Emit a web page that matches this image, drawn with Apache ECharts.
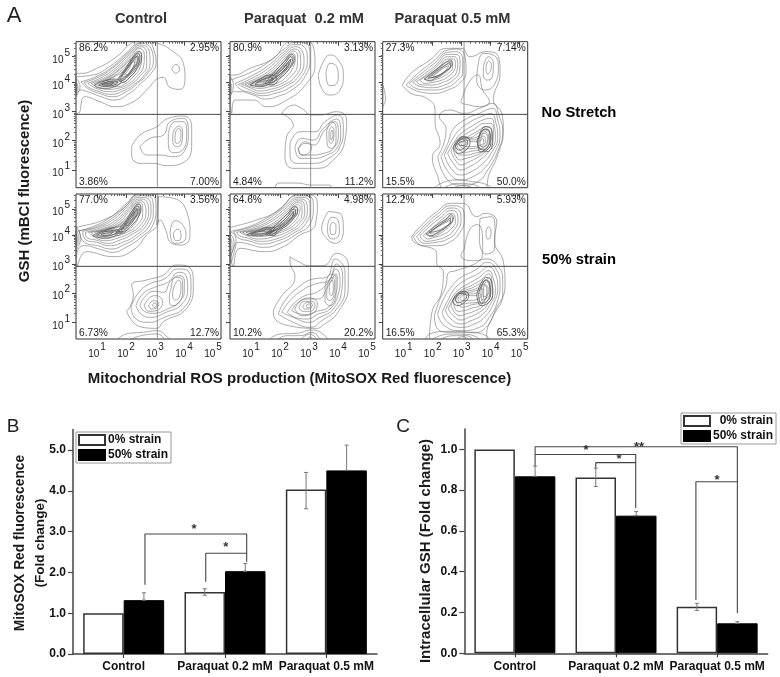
<!DOCTYPE html>
<html><head><meta charset="utf-8">
<style>html,body{margin:0;padding:0;background:#fff}#c{width:780px;height:677px}</style>
<script src="https://cdn.jsdelivr.net/npm/echarts@6/dist/echarts.min.js"></script>
</head><body><div id="c"></div>
<script>
// ---- Panel A: contour data, flow-cytometry channels (x across, y down from top of plot); each list is one contour
const contoursNoStretchControl=[
[0,95,12,95,62,80,122,45,172,2,200,-3,245,5,285,25,322,65,327,110,312,143,282,137,262,107,247,110,212,145,172,180,117,195,72,180,27,165,6,215,-5,215],
[0,105,50,100,100,75,150,35,185,5,215,0,235,30,240,65,225,95,195,125,160,155,115,175,75,165,35,150,15,145,0,160],
[15,120,60,105,110,75,160,30,195,5,225,20,232,60,215,95,185,125,150,150,110,165,70,155,35,140],
[25,122,70,105,115,75,160,35,195,10,220,30,222,65,205,100,175,128,140,148,105,158,65,148,35,135],
[35,125,75,108,120,78,160,40,195,15,212,35,212,70,195,100,165,128,130,145,100,150,65,142],
[45,125,85,108,125,80,165,42,190,20,205,40,203,72,185,102,155,128,125,140,95,143,65,135],
[55,125,90,110,130,82,165,48,188,28,197,45,193,75,175,102,145,128,120,135,90,135,65,130],
[65,122,95,110,130,85,165,52,186,34,190,50,183,78,165,104,135,125,110,130,85,128],
[78,120,105,108,135,88,165,58,183,42,183,58,172,82,150,108,125,122,100,125],
[90,117,115,105,140,90,165,65,178,52,175,68,160,92,135,112,110,120],
[135,105,160,72,180,45,185,50,170,80,145,105],
[145,100,160,80,172,60,176,62,165,85,150,100],
[75,125,100,115,125,118,105,128,80,130],
[85,125,100,120,115,122,100,126],
[0,110,8,120,12,135,8,150,0,165],[0,120,5,130,6,140,3,150,0,155],[0,125,3,135,2,145,0,150],
[287,82,299,68,311,82,299,95],
[167,315,192,280,242,255,277,230,322,223,347,255,347,315,317,365,272,372,232,365,192,365,167,340],
[192,315,222,290,262,280,282,240,322,230,337,275,327,325,292,345,252,340,212,340],
[277,275,297,240,322,240,332,275,320,325,292,333,277,305],
[292,270,307,253,320,270,317,305,302,315,290,295],
[299,270,307,260,315,275,312,300,302,305,297,290]];
const contoursNoStretchLow=[
[0,100,10,100,60,80,130,50,180,0,225,-3,250,15,255,65,230,125,170,175,110,195,70,175,15,175,5,215],
[0,115,55,95,110,65,165,20,195,2,228,5,240,50,225,105,185,145,140,165,105,172,70,160,30,150,10,150,0,175],
[15,125,60,105,110,75,165,28,195,8,222,15,232,55,215,105,175,140,135,155,100,162,60,152,30,142],
[25,128,65,110,115,80,165,35,195,15,215,25,222,60,205,105,170,132,130,148,95,155,60,145],
[35,128,75,112,120,85,165,42,195,22,210,35,212,65,195,105,160,130,125,142,90,148,60,138],
[45,128,85,112,125,88,165,50,192,28,203,42,202,70,185,102,150,128,120,135,90,140,62,135],
[55,128,90,112,128,92,165,58,188,35,196,50,190,75,172,102,140,125,112,130,85,132],
[65,126,98,112,130,95,165,65,185,42,190,55,178,80,158,102,130,120,105,125,85,127],
[78,122,105,110,135,95,165,70,182,52,180,65,165,85,145,102,120,117,95,122],
[88,120,115,108,140,97,165,75,177,62,170,78,150,97,125,113,105,118],
[100,118,120,105,145,92,170,70,165,82,145,100,120,113],
[0,105,8,118,10,135,6,150,0,165],[0,120,4,130,5,140,2,150,0,155],
[265,100,280,60,300,40,325,55,340,100,330,145,300,160,275,140],
[288,95,300,65,318,72,325,105,315,130,298,132],
[155,215,190,190,215,200,245,220,270,220,320,210,350,235,345,295,310,355,260,380,190,380,165,345,170,285,190,250],
[180,305,210,270,255,270,285,240,325,220,340,265,330,315,295,350,250,365,200,365,180,340],
[195,315,215,290,250,295,280,260,320,232,332,275,320,320,290,340,250,350,210,350],
[205,320,225,300,250,310,285,265,315,240,325,280,310,320,280,335,245,340,215,340],
[205,320,225,305,245,315,235,335,215,340],
[290,270,305,240,318,255,318,295,305,320,292,310],
[297,270,305,255,312,270,310,295,302,305,297,290],
[302,275,306,265,309,280,304,295],
[135,445,145,424,200,424,245,430,300,430,305,445]];
const contoursNoStretchHigh=[
[59,130,85,95,142,55,192,20,237,20,262,45,310,30,347,45,352,95,332,175,357,215,362,265,345,340,320,395,300,445,192,445,162,395,149,345,172,305,157,240,157,205,132,170,85,155],
[240,165,260,120,285,100,300,145,320,180,290,195,260,190,235,180],
[287,65,302,35,332,40,347,75,337,125,307,145,282,115],
[302,75,317,45,332,65,327,110,312,115,302,95],
[310,75,317,58,326,70,322,90,314,97],
[0,130,6,150,8,175,3,190,0,195],
[70,130,100,100,150,60,195,25,225,22,248,50,250,90,230,125,195,145,155,155,110,150],
[80,125,110,100,155,65,195,32,222,30,240,55,240,90,220,120,190,138,150,145,110,143],
[90,122,120,100,160,70,195,38,220,38,232,60,230,90,212,115,185,130,150,138,115,135],
[100,120,130,100,165,72,195,45,215,45,225,65,222,90,205,110,180,122,150,130,120,130],
[112,115,140,97,170,75,195,52,212,52,218,70,212,90,195,105,175,116,150,122,125,125],
[125,112,150,95,175,75,195,60,208,60,210,75,200,92,180,105,160,113,140,118],
[140,108,165,90,190,70,205,66,200,82,180,98,160,108],
[150,105,170,88,190,75,198,72,190,85,170,100],
[165,345,185,300,190,260,170,225,200,205,245,215,290,200,330,185,350,225,360,270,345,330,315,385,285,420,240,430,195,415],
[175,345,195,305,210,265,245,235,290,215,330,200,345,235,352,280,335,335,305,380,270,405,235,415,200,395],
[185,340,205,300,225,270,255,245,295,225,325,215,340,245,345,285,325,335,295,370,265,390,235,400,205,380],
[195,335,215,300,235,275,265,255,300,235,325,230,335,255,338,290,318,330,285,360,260,375,235,385,212,365],
[205,330,222,300,245,280,275,262,305,245,325,245,332,265,330,295,310,328,280,350,255,362,235,370,218,355],
[212,325,230,295,255,285,285,268,310,255,325,258,327,280,320,305,300,330,275,343,250,350,232,355],
[218,318,235,290,262,288,285,275,310,265,320,275,320,300,305,325,275,335,250,340,230,340],
[222,310,240,285,265,290,285,285,305,275,315,285,312,305,295,322,270,328,245,332],
[228,305,245,288,268,295,288,290,303,283,308,298,295,315,270,320,245,322],
[235,305,250,295,268,300,290,298,300,290,303,302,285,312,260,315,245,315],
[290,290,305,262,322,275,320,305,302,322,288,312],
[295,290,305,270,317,280,315,305,300,315,292,305],
[150,445,175,425,225,415,270,420,315,430,330,445],
[175,445,225,425,270,428,300,445],[200,445,235,432,260,434,275,445]];
const contoursStrainControl=[
[0,100,12,98,82,78,142,43,192,0,237,0,247,23,247,83,212,123,172,168,112,188,32,173,4,218],
[0,112,50,98,100,72,150,30,185,2,230,5,240,45,232,90,195,130,150,160,110,175,70,165,25,155,8,165,0,195],
[10,110,55,100,105,75,155,32,190,5,225,10,232,50,222,92,185,128,145,152,105,165,65,155,25,145],
[20,112,65,100,110,78,155,38,190,10,218,15,225,50,212,92,178,125,140,145,100,155,62,145,30,138],
[28,115,72,102,115,82,158,42,190,15,212,22,218,52,202,95,170,120,132,138,95,148,60,138,32,130],
[38,115,80,104,120,85,160,46,190,20,205,28,210,55,192,95,160,118,125,132,90,140,60,132],
[45,115,85,105,125,88,162,50,188,25,200,35,200,58,182,95,152,115,120,126,88,134,58,125],
[55,115,92,105,130,90,165,55,186,30,193,42,190,60,172,95,145,112,115,120,85,127],
[62,114,98,104,132,92,165,60,184,36,187,48,180,65,160,95,135,110,110,115,85,120],
[72,114,102,104,135,94,165,65,182,42,180,58,168,75,148,96,125,110,100,112],
[85,112,110,102,138,96,165,72,178,52,172,70,155,88,130,105,108,110],
[145,90,165,65,176,55,165,80,150,95],[118,122,130,112,135,115,125,125],
[0,98,10,115,14,132,10,150,0,170],[0,110,6,120,9,135,5,150,0,160],[0,120,4,128,5,138,2,148,0,152],
[247,8,292,13,332,53,342,123,317,153,287,148,267,103,252,78,242,93],
[282,115,297,80,318,90,330,125,318,145,295,148],
[292,118,305,105,315,120,312,138,300,140],
[152,353,172,303,167,273,212,258,262,243,302,213,337,218,352,273,332,343,262,383,242,403,192,398],
[165,340,185,300,220,270,265,255,305,225,335,230,345,275,325,340,265,370,220,385,180,375],
[180,335,200,300,235,280,275,265,310,235,330,245,335,280,318,330,270,355,225,370,195,360],
[192,335,205,310,235,292,262,295,285,260,312,245,325,260,325,290,308,325,275,345,230,358,205,352],
[205,335,220,312,240,305,260,325,240,350,218,352],
[218,335,232,320,248,328,240,343,225,345],[229,335,235,327,243,332,235,340],
[285,285,298,250,318,255,320,290,305,330,288,335,280,310],
[295,275,308,258,315,275,310,310,298,318,290,300],
[118,445,150,420,200,415,242,410,275,430,290,445],[150,445,195,425,245,420,270,445]];
const contoursStrainLow=[
[0,100,10,98,80,78,140,53,210,0,245,3,262,30,258,80,250,103,210,123,160,158,105,173,30,163,10,218],
[0,112,50,100,105,75,155,40,200,5,240,8,250,40,240,90,200,120,150,148,100,160,55,150,25,145,8,170,0,205],
[12,112,60,100,110,78,160,42,205,10,235,15,240,45,228,88,190,118,145,140,95,150,55,140,25,132],
[20,115,68,102,115,82,165,45,205,15,228,22,232,50,218,88,182,115,138,135,90,142,52,132,28,125],
[30,115,75,104,120,85,168,50,205,20,222,28,224,55,208,88,175,112,132,128,85,135,50,125],
[38,115,82,105,125,90,170,55,205,25,216,35,216,58,198,88,165,110,125,122,85,128,52,122],
[48,115,88,106,130,92,172,60,202,32,210,40,206,62,188,88,158,108,120,118,85,122],
[58,114,95,106,135,95,175,65,200,38,203,48,196,65,178,88,150,106,115,115,85,118],
[70,114,102,106,138,98,178,70,198,45,195,58,185,72,168,90,145,105,110,112],
[85,112,110,108,142,98,175,78,192,58,185,72,165,92,135,108],
[118,122,125,110,135,110,140,112,130,125],
[0,115,12,120,18,145,12,175,4,205,0,210],[0,120,8,130,12,150,8,170,0,190],[0,130,5,140,6,155,3,170,0,175],
[295,53,335,63,340,113,315,148,290,133,275,103],
[292,100,305,70,325,80,328,115,310,135,295,125],
[300,100,307,85,318,95,316,118,305,122],
[180,188,200,200,240,215,280,215,320,178,355,213,355,273,325,353,280,393,260,403,190,398,130,358,150,313,195,248,180,203],
[145,360,165,320,205,280,250,255,290,250,315,195,345,235,345,285,320,345,275,380,240,400,190,385],
[155,355,180,320,215,290,255,270,295,260,320,210,338,245,335,290,310,345,270,370,235,385,190,370],
[172,355,195,325,225,305,260,295,295,265,318,225,330,260,325,300,300,345,265,360,230,375,195,370],
[185,350,205,325,235,315,265,315,295,275,318,240,322,265,315,305,295,340,260,352,225,362],
[195,345,212,320,240,312,262,330,245,360,215,365],
[207,340,222,322,245,322,255,335,238,352,218,352],
[218,338,232,325,247,332,238,345,224,345],[228,335,237,330,242,336,233,341],
[285,280,302,240,318,250,318,300,300,335,285,320],
[292,275,305,250,314,262,312,300,298,320,290,305],
[298,270,306,258,310,280,304,305,298,295],
[110,445,150,420,200,418,245,408,285,425,295,445],[135,445,170,425,210,425,245,415,275,445],
[205,445,240,420,265,445],[225,445,240,428,252,445]];
const contoursStrainHigh=[
[87,128,110,100,160,55,207,28,242,28,282,68,307,58,342,83,335,140,362,203,367,273,332,363,312,423,320,445,140,445,147,358,177,293,182,233,162,208,162,178,92,143],
[245,165,262,105,285,92,300,150,298,190,270,200,235,185],
[292,73,327,68,337,115,335,165,310,180,290,130],
[310,113,317,98,325,113,322,132,314,135],
[92,128,125,95,165,60,205,35,235,40,245,75,232,115,200,145,160,155,120,155],
[102,128,130,98,170,65,205,42,228,48,235,78,222,112,195,135,160,145,125,148],
[112,125,140,98,175,70,205,50,222,55,226,80,212,110,190,128,160,138,130,142],
[122,125,150,100,180,75,205,58,216,65,218,82,205,105,180,122,155,130,135,135],
[132,122,160,100,185,82,205,68,210,75,205,90,185,110,165,122,145,128],
[140,118,165,100,190,85,203,78,198,92,178,110,155,120],
[155,365,170,320,190,275,195,240,220,230,265,215,310,195,345,215,360,260,360,300,335,360,305,405,275,415,205,415,165,405],
[165,360,180,320,205,280,235,250,275,230,315,205,340,225,352,270,345,320,320,370,290,400,235,410,185,395],
[178,355,195,320,215,285,245,260,285,240,318,218,338,240,345,280,332,330,305,370,275,390,235,400,195,385],
[188,350,205,315,225,290,255,270,290,250,318,230,332,255,338,290,320,335,295,365,265,380,235,390,205,375],
[197,345,212,315,235,290,265,275,295,258,318,240,328,265,330,295,312,335,285,358,258,370,235,378,212,365],
[205,335,220,305,245,290,272,280,298,265,320,252,325,275,322,300,302,335,278,350,250,360,230,365],
[212,325,228,300,252,292,278,285,298,272,318,262,320,285,312,308,292,335,268,342,245,350,225,352],
[218,320,235,298,260,295,280,290,295,280,305,272,312,295,298,325,268,332,240,340],
[225,315,240,300,262,300,280,298,295,285,303,285,303,305,285,325,260,327,240,330],
[232,312,245,302,262,305,280,305,290,298,295,305,280,317,258,320,240,320],
[295,290,308,258,318,268,322,295,310,315,298,318],
[300,290,308,272,316,285,312,305,302,308],
[125,445,145,418,200,412,260,415,310,425,320,445],[135,445,200,420,260,422,300,445],
[160,445,210,425,250,425,280,445],[210,445,240,428,265,445]];
// densest inner contours around each peak, drawn slightly heavier
const coreNoStretchControl=[[125,112,150,78,172,45,190,30,197,45,185,78,160,108,140,122],[130,110,155,75,175,45,188,36,192,48,180,78,155,105,138,116],[133,110,158,76,178,48,186,42,187,52,175,78,152,103,138,112],
[55,130,85,118,115,112,135,120,115,135,85,140,65,138],[68,130,90,122,115,118,125,122,108,132,85,134],[78,128,95,124,112,122,105,129,88,131]];
const coreNoStretchLow=[[105,125,130,95,160,62,185,38,193,50,175,85,150,110,125,130],[115,122,135,98,165,65,183,45,187,55,168,85,145,108,125,124],[122,118,140,100,168,70,182,52,180,62,162,85,140,106],
[60,130,90,112,120,100,140,108,120,125,90,135],[75,128,95,115,120,108,130,112,115,122,90,130]];
const coreNoStretchHigh=[[125,112,155,88,185,65,205,55,208,68,190,88,160,108,140,116],[135,110,162,88,188,70,202,62,203,72,185,90,160,104],
[212,318,228,290,245,285,262,300,250,325,225,335],[218,312,232,295,245,292,255,302,245,318,228,325],[225,308,235,300,245,298,250,305,240,312],
[285,300,298,262,312,255,328,270,330,300,312,330,292,330],[283,298,298,268,312,262,322,275,324,302,308,325,292,322]];
const coreStrainControl=[[120,115,150,80,172,45,188,30,195,42,185,72,160,100,135,118],[128,112,155,80,175,48,186,36,190,48,178,72,155,98,135,113],[135,108,160,78,178,52,184,44,184,55,172,75,150,98],
[50,125,80,112,110,105,130,112,110,128,80,132],[62,124,85,114,112,110,122,114,105,124,80,127],[75,122,95,116,112,114,100,122,85,124]];
const coreStrainLow=[[105,122,135,95,170,62,195,38,203,48,185,80,155,105,125,125],[112,120,140,98,172,68,192,45,197,52,180,80,150,103,125,120],[120,118,145,100,175,72,190,52,190,60,172,82,145,102],
[50,122,85,110,115,100,135,102,115,118,85,125],[62,120,90,112,118,105,125,108,105,117,85,120]];
const coreStrainHigh=[[130,120,160,95,190,75,205,62,212,72,195,95,165,115,145,125],[140,115,168,95,192,80,203,72,204,82,185,100,160,112],
[210,320,228,295,245,292,258,305,245,325,222,335],[218,315,232,298,245,298,252,308,242,320,226,326],
[282,300,298,262,312,250,328,268,330,300,312,330,295,335],[288,298,300,268,312,258,322,275,324,300,308,325,295,328]];
const panelContours=[contoursNoStretchControl,contoursNoStretchLow,contoursNoStretchHigh,contoursStrainControl,contoursStrainLow,contoursStrainHigh];
const panelCores=[coreNoStretchControl,coreNoStretchLow,coreNoStretchHigh,coreStrainControl,coreStrainLow,coreStrainHigh];
const percentLabels=[["86.2%","2.95%","3.86%","7.00%"],["80.9%","3.13%","4.84%","11.2%"],["27.3%","7.14%","15.5%","50.0%"],
["77.0%","3.56%","6.73%","12.7%"],["64.6%","4.98%","10.2%","20.2%"],["12.2%","5.93%","16.5%","65.3%"]];
const columnTitles=["Control","Paraquat  0.2 mM","Paraquat 0.5 mM"];
const decadeX=[63,150,237,324,411], decadeY=[385,297,210,123,45], decadeExp=[1,2,3,4,5];
const minorFractions=[.3,.48,.6,.7,.78,.85,.9,.95];
const gateX=[244,242,244,244,242,244], gateY=[218,218,218,217,217,217];

// ---- Panels B and C
const categories=["Control","Paraquat 0.2 mM","Paraquat 0.5 mM"];
const rosNoStrain=[1.0,1.52,4.03], rosStrain=[1.32,2.03,4.5];
const rosErrors=[[.7,1.32,1.5],[1.3,1.44,1.6],[1.7,2.03,2.22],[2.3,3.56,4.45],[2.7,4.5,5.12]];
const gshNoStrain=[1.0,.862,.228], gshStrain=[.868,.675,.147];
const gshErrors=[[.7,.868,.918],[1.3,.818,.908],[1.7,.675,.695],[2.3,.21,.245],[2.7,.147,.155]];
const rosBrackets=[[[.71,1.7],[.71,2.94],[1.714,2.94],[1.714,2.26]],[[1.31,1.77],[1.31,2.47],[1.714,2.47]]];
const gshBrackets=[[[.7,.918],[.7,1.013],[2.7,1.013],[2.7,.197]],[[.7,.975],[1.695,.975],[1.695,.713]],[[1.3,.91],[1.3,.935],[1.695,.935]],[[2.29,.262],[2.29,.841],[2.7,.841]]];
const rosStars=[[1.194,3.05,"*"],[1.507,2.6,"*"]];
const gshStars=[[1.204,.995,"*"],[1.53,.95,"*"],[2.5,.85,"*"],[1.728,1.01,"**"]];

// ---- build
const FF='"Liberation Sans",Arial,sans-serif';
const grids=[],xAxes=[],yAxes=[],series=[],graphic=[];
const panelLeft=[76,230,382.7], panelTop=[41.7,194], pw=145, ph=146;
function toLine(list){const out=[];list.forEach(c=>{for(let i=0;i<c.length;i+=2)out.push([c[i],c[i+1]]);out.push([c[0],c[1]]);out.push(['-','-']);});return out;}
function minorTicks(maj,step){const o=[];maj.forEach(m=>minorFractions.forEach(f=>o.push(m+step*f)));return o;}
const supRich={b:{fontFamily:FF,fontSize:10,color:'#222',padding:[7,0,0,0]},s:{fontFamily:FF,fontSize:10,color:'#222',padding:[0,0,7,1]}};
const fmtDecade=arr=>v=>{const i=arr.indexOf(v);return '{b|10}{s|'+decadeExp[i]+'}';};
panelContours.forEach((cont,i)=>{
  const row=i<3?0:1,col=i%3;
  const left=panelLeft[col],top=panelTop[row],h=row?145:ph;
  grids.push({left,top,width:pw,height:h,show:true,borderColor:'#333',borderWidth:1,backgroundColor:'#fff'});
  const xi=xAxes.length,yi=yAxes.length;
  const line={lineStyle:{color:'#444',width:1}};
  xAxes.push({gridIndex:i,type:'value',min:0,max:435,position:'bottom',splitLine:{show:false},axisLine:{show:false},
    axisTick:Object.assign({show:true,length:4,customValues:decadeX},line),
    axisLabel:{show:row===1,customValues:decadeX,margin:3,formatter:fmtDecade(decadeX),rich:supRich}});
  xAxes.push({gridIndex:i,type:'value',min:0,max:435,position:'bottom',splitLine:{show:false},axisLine:{show:false},
    axisTick:{show:true,length:2,customValues:minorTicks(decadeX,87).filter(v=>v<435),lineStyle:{color:'#666',width:1}},axisLabel:{show:false}});
  yAxes.push({gridIndex:i,type:'value',min:0,max:row?435:438,inverse:true,position:'left',splitLine:{show:false},axisLine:{show:false},
    axisTick:Object.assign({show:true,length:4,customValues:decadeY},line),
    axisLabel:{show:col===0,customValues:decadeY,margin:6,formatter:fmtDecade(decadeY),rich:supRich}});
  yAxes.push({gridIndex:i,type:'value',min:0,max:row?435:438,inverse:true,position:'left',splitLine:{show:false},axisLine:{show:false},
    axisTick:{show:true,length:2,customValues:decadeY.flatMap(m=>minorFractions.map(f=>m-87*f)).filter(v=>v>0),lineStyle:{color:'#666',width:1}},axisLabel:{show:false}});
  series.push({type:'line',name:'contours'+i,xAxisIndex:xi,yAxisIndex:yi,data:toLine(cont),smooth:.5,showSymbol:false,symbol:'none',silent:true,
    lineStyle:{color:'#666',width:.55},clip:true,connectNulls:false,z:2});
  series.push({type:'line',name:'core'+i,xAxisIndex:xi,yAxisIndex:yi,data:toLine(panelCores[i]),smooth:.5,showSymbol:false,symbol:'none',silent:true,
    lineStyle:{color:'#555',width:.8},clip:true,connectNulls:false,z:2});
  series.push({type:'line',name:'gateV'+i,xAxisIndex:xi,yAxisIndex:yi,symbol:'none',silent:true,clip:true,z:3,
    lineStyle:{color:'#777',width:.8},data:[[gateX[i],0],[gateX[i],440]]});
  series.push({type:'line',name:'gateH'+i,xAxisIndex:xi,yAxisIndex:yi,symbol:'none',silent:true,clip:true,z:3,
    lineStyle:{color:'#444',width:1},data:[[0,gateY[i]],[435,gateY[i]]]});
  const p=percentLabels[i],pct='10.2px '+FF;
  [[p[0],left+3,top+6.5,'left'],[p[1],left+pw-2,top+6.5,'right'],[p[2],left+3,top+h-6,'left'],[p[3],left+pw-2,top+h-6,'right']].forEach(t=>{
    graphic.push({type:'text',x:t[1],y:t[2],silent:true,z:10,style:{text:t[0],font:pct,fill:'#222',textAlign:t[3],textVerticalAlign:'middle'}});
  });
});
function barChart(gi,left,top,width,height,yMax,ticks,a,b,errs,brackets,stars){
  grids.push({left,top,width,height,show:false});
  const xi=xAxes.length,yi=yAxes.length;
  const boldLabel={fontFamily:FF,fontWeight:'bold',fontSize:12,color:'#111'};
  xAxes.push({gridIndex:gi,type:'category',data:categories,position:'bottom',axisLine:{show:true,onZero:false,lineStyle:{color:'#444',width:1.5}},
    axisTick:{show:true,alignWithLabel:true,interval:0,length:4,lineStyle:{color:'#444',width:1.2}},axisLabel:Object.assign({margin:7,interval:0,hideOverlap:false},boldLabel),splitLine:{show:false}});
  xAxes.push({gridIndex:gi,type:'value',min:0,max:3,show:false,splitLine:{show:false}});
  yAxes.push({gridIndex:gi,type:'value',min:0,max:yMax,position:'left',splitLine:{show:false},axisLine:{show:true,lineStyle:{color:'#444',width:1.5}},
    axisTick:{show:true,length:5,customValues:ticks,lineStyle:{color:'#444',width:1.2}},axisLabel:Object.assign({customValues:ticks,margin:7,formatter:v=>v.toFixed(1)},boldLabel)});
  series.push({type:'bar',name:'0% strain',xAxisIndex:xi,yAxisIndex:yi,data:a,barWidth:40.5,barGap:0,itemStyle:{color:'#fff',borderColor:'#333',borderWidth:1.5},silent:true,z:2});
  series.push({type:'bar',name:'50% strain',xAxisIndex:xi,yAxisIndex:yi,data:b,barWidth:40.5,barGap:0,itemStyle:{color:'#000',borderColor:'#000',borderWidth:1},silent:true,z:2});
  series.push({type:'custom',name:'errors'+gi,xAxisIndex:xi+1,yAxisIndex:yi,data:errs,silent:true,z:4,encode:{x:0,y:[1,2]},clip:false,
    renderItem:(p,api)=>{const l=api.coord([api.value(0),api.value(1)]),h=api.coord([api.value(0),api.value(2)]);
      const st={stroke:'#777',lineWidth:1};
      return {type:'group',children:[
        {type:'line',shape:{x1:l[0],y1:l[1],x2:h[0],y2:h[1]},style:st},
        {type:'line',shape:{x1:l[0]-2,y1:l[1],x2:l[0]+2,y2:l[1]},style:st},
        {type:'line',shape:{x1:h[0]-2,y1:h[1],x2:h[0]+2,y2:h[1]},style:st}]};}});
  const bd=[];brackets.forEach(b=>{b.forEach(pt=>bd.push(pt));bd.push(['-','-']);});
  series.push({type:'line',name:'brackets'+gi,xAxisIndex:xi+1,yAxisIndex:yi,data:bd,symbol:'none',silent:true,smooth:false,z:5,clip:false,lineStyle:{color:'#444',width:1.1}});
  series.push({type:'scatter',name:'stars'+gi,xAxisIndex:xi+1,yAxisIndex:yi,symbolSize:1,silent:true,z:6,itemStyle:{opacity:0},
    data:stars.map(s=>({value:[s[0],s[1]],name:s[2]})),
    label:{show:true,position:'inside',formatter:p=>p.name,fontFamily:FF,fontWeight:'bold',fontSize:13,color:'#333',opacity:1}});
}
barChart(6,73,429.6,304,224.4,5.5,[0,1,2,3,4,5],rosNoStrain,rosStrain,rosErrors,rosBrackets,rosStars);
barChart(7,464.3,429,303.4,224.3,1.1,[0,.2,.4,.6,.8,1],gshNoStrain,gshStrain,gshErrors,gshBrackets,gshStars);

// ---- texts
const T=(text,x,y,font,o={})=>graphic.push(Object.assign({type:'text',x,y,silent:true,z:10,style:{text,font:font+' '+FF,fill:o.fill||'#1a1a1a',textAlign:o.align||'center',textVerticalAlign:'middle'}},o.rot?{rotation:o.rot}:{}));
const R=Math.PI/2;
const titleFont='bold 14.6px';
T(columnTitles[0],141,19,titleFont,{fill:'#333'});T(columnTitles[1],304,19,titleFont,{fill:'#333'});T(columnTitles[2],452.5,19,titleFont,{fill:'#333'});
T("No Stretch",579,113,'bold 14.8px',{fill:'#000'});T("50% strain",579,260,'bold 14.8px',{fill:'#000'});
T("Mitochondrial ROS production (MitoSOX Red fluorescence)",299.5,379,'bold 15px');
T("GSH (mBCl fluorescence)",25,191,'bold 15px',{rot:R});
T("MitoSOX Red fluorescence",20,543,'bold 13.8px',{rot:R});
T("(Fold change)",40,543,'bold 13.6px',{rot:R});
T("Intracellular GSH (Fold change)",426,551,'bold 15px',{rot:R});
T("A",14,16,'22px',{fill:'#222'});T("B",13,426.5,'19px',{fill:'#222'});T("C",403,426.5,'19px',{fill:'#222'});

const legendBase={orient:'vertical',itemWidth:26,itemHeight:10,itemGap:3,selectedMode:false,icon:'rect',borderColor:'#999',borderWidth:1,padding:[2,3,2,2],
  textStyle:{fontFamily:FF,fontWeight:'bold',fontSize:12,lineHeight:11,color:'#111',padding:[0,0,0,-2]},data:['0% strain','50% strain'],backgroundColor:'#fff',z:9};
const chart=echarts.init(document.getElementById('c'),null,{renderer:'canvas'});
chart.setOption({animation:false,backgroundColor:'#fff',grid:grids,xAxis:xAxes,yAxis:yAxes,series,graphic,tooltip:{show:false},
  legend:[Object.assign({},legendBase,{left:76,top:432}),
          Object.assign({},legendBase,{left:681,top:413,formatter:n=>n==='0% strain'?'  0% strain':n})]});
</script></body></html>
